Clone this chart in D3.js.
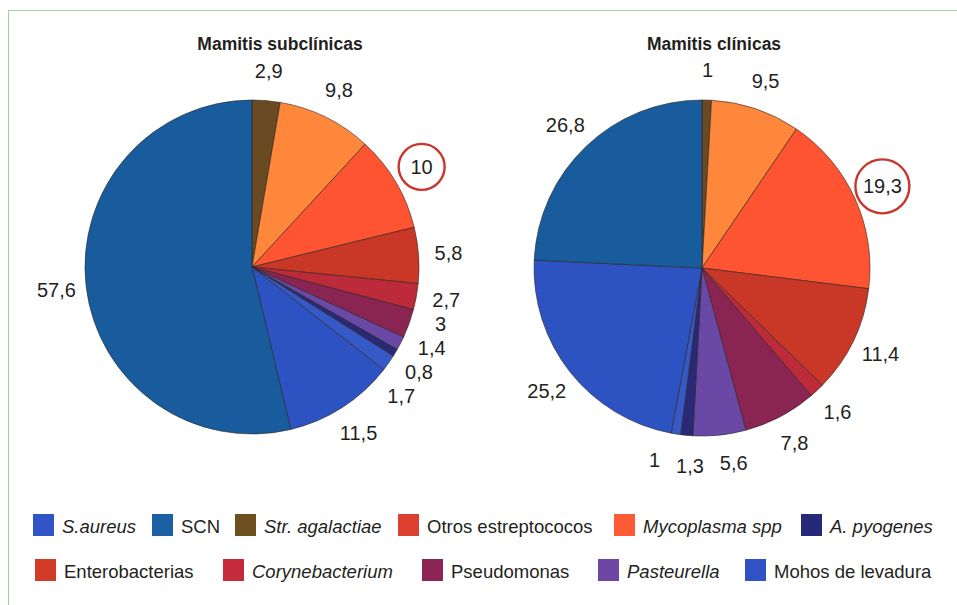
<!DOCTYPE html>
<html><head><meta charset="utf-8"/>
<title>Mamitis</title>
<script src="https://cdn.jsdelivr.net/npm/d3@7/dist/d3.min.js"></script>
<style>
  body { margin: 0; padding: 0; background: #fff; }
  svg { display: block; font-family: "Liberation Sans", Arial, Helvetica, sans-serif; }
  .lbl { font-size: 20px; fill: #231f20; }
  .ttl { font-size: 17.5px; font-weight: bold; fill: #231f20; }
  .leg { font-size: 18.5px; fill: #231f20; }
</style>
</head>
<body>
<svg id="chart" width="957" height="605"></svg>
<script>
// slice order, clockwise from 12 o'clock
const categories = ["Str. agalactiae", "Otros estreptococos", "Mycoplasma spp", "Enterobacterias",
  "Corynebacterium", "Pseudomonas", "Pasteurella", "A. pyogenes", "Mohos de levadura", "S.aureus", "SCN"];
const subclinicas = [2.9, 9.8, 10, 5.8, 2.7, 3, 1.4, 0.8, 1.7, 11.5, 57.6];
const clinicas = [1, 9.5, 19.3, 11.4, 1.6, 7.8, 5.6, 1.3, 1, 25.2, 26.8];
const highlighted = "Mycoplasma spp";

// legend rows as printed
const legendRow1 = ["S.aureus", "SCN", "Str. agalactiae", "Otros estreptococos", "Mycoplasma spp", "A. pyogenes"];
const legendRow2 = ["Enterobacterias", "Corynebacterium", "Pseudomonas", "Pasteurella", "Mohos de levadura"];
const italicNames = ["S.aureus", "Str. agalactiae", "Mycoplasma spp", "A. pyogenes", "Corynebacterium", "Pasteurella"];

const sliceColor = d3.scaleOrdinal().domain(categories).range([
  "#6a4a22", "#ff873c", "#ff5431", "#c93826", "#bd2a3a", "#8a2453",
  "#6a48a6", "#2a2977", "#3559c6", "#2d52c2", "#195c9e"]);
const legendColor = d3.scaleOrdinal().domain(categories).range([
  "#6e5020", "#dc4130", "#ff5a36", "#d23c26", "#c52a3b", "#8c2455",
  "#6d45a3", "#26297a", "#3152c4", "#2f55c7", "#1b60a3"]);

const svg = d3.select("#chart");

// thin green frame
svg.append("rect").attr("x", 8.5).attr("y", 10.5).attr("width", 970).attr("height", 620)
  .attr("fill", "none").attr("stroke", "#9fd0a8").attr("stroke-width", 1);

const pies = [
  { title: "Mamitis subclínicas", values: subclinicas, cx: 252, cy: 267, r: 167, tx: 280, ring: 23 },
  { title: "Mamitis clínicas", values: clinicas, cx: 702, cy: 268, r: 168, tx: 714, ring: 27 }
];

const pie = d3.pie().sort(null).value(d => d.v);

// push label angles apart along the label circle until neighbouring boxes clear each other
function spreadAngles(arcs, widths, R) {
  const ang = arcs.map(d => (d.startAngle + d.endAngle) / 2);
  const padX = 16, needY = 24;
  for (let it = 0; it < 400; it++) {
    for (let i = 0; i < ang.length - 1; i++) {
      const mid = (ang[i] + ang[i + 1]) / 2;
      const tx = Math.abs(Math.cos(mid)), ty = Math.abs(Math.sin(mid));
      const dx = ((widths[i] + widths[i + 1]) / 2 + padX) / Math.max(tx, 1e-3);
      const dy = needY / Math.max(ty, 1e-3);
      const need = Math.min(dx, dy) / R;
      const gap = ang[i + 1] - ang[i];
      if (gap < need) {
        const push = (need - gap) / 2;
        ang[i] -= push * 0.5;
        ang[i + 1] += push * 0.5;
      }
    }
  }
  return ang;
}

pies.forEach(p => {
  const data = categories.map((c, i) => ({ c, v: p.values[i] }));
  const arcs = pie(data);
  const arc = d3.arc().innerRadius(0).outerRadius(p.r);
  const R = p.r + 30;

  const g = svg.append("g").attr("transform", `translate(${p.cx},${p.cy})`);

  g.selectAll("path").data(arcs).join("path")
    .attr("d", arc)
    .attr("fill", d => sliceColor(d.data.c))
    .attr("stroke", "#2b2320").attr("stroke-width", 0.6).attr("stroke-linejoin", "round");

  const labels = g.selectAll("text").data(arcs).join("text")
    .attr("class", "lbl")
    .attr("text-anchor", "middle").attr("dominant-baseline", "central")
    .text(d => String(d.data.v).replace(".", ","));

  const widths = labels.nodes().map(n => n.getComputedTextLength());
  const ang = spreadAngles(arcs, widths, R);
  arcs.forEach((d, i) => { d.lx = R * Math.sin(ang[i]); d.ly = -R * Math.cos(ang[i]); });
  labels.attr("x", d => d.lx).attr("y", d => d.ly);

  const hi = arcs.find(d => d.data.c === highlighted);
  g.append("circle")
    .attr("cx", hi.lx).attr("cy", hi.ly)
    .attr("r", p.ring).attr("fill", "none")
    .attr("stroke", "#c9372c").attr("stroke-width", 2.4);

  svg.append("text").attr("class", "ttl")
    .attr("x", p.tx).attr("y", 50).attr("text-anchor", "middle").text(p.title);
});

// legend
const rows = [
  { names: legendRow1, xs: [33, 152, 235, 398, 614, 801], y: 514 },
  { names: legendRow2, xs: [35, 223, 422, 598, 745], y: 559 }
];
rows.forEach(row => {
  const item = svg.append("g").selectAll("g").data(row.names).join("g")
    .attr("transform", (d, i) => `translate(${row.xs[i]},${row.y})`);
  item.append("rect").attr("width", 21).attr("height", 22).attr("fill", d => legendColor(d));
  item.append("text").attr("class", "leg")
    .attr("x", 29).attr("y", 18.5)
    .attr("font-style", d => italicNames.includes(d) ? "italic" : "normal")
    .text(d => d);
});
</script>
</body></html>
